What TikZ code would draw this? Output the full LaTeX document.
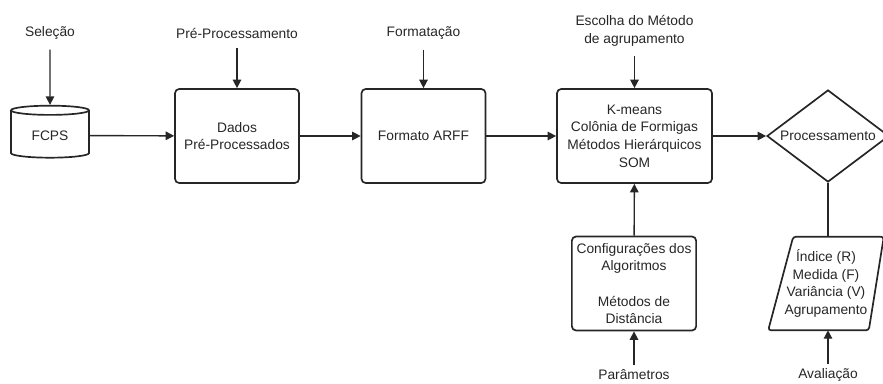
\documentclass[tikz,border=0pt]{standalone}
\usepackage{fontspec}
\setsansfont{Liberation Sans}
\usetikzlibrary{shapes.geometric,arrows.meta,positioning,calc}

\begin{document}
\begin{tikzpicture}[
    x=0.025cm, y=-0.025cm,
    txt/.style={font=\sffamily\fontsize{9.8}{12.5}\selectfont, text=black!85},
    outline/.style={draw=black!85, line width=1.2pt},
    box/.style={outline, rectangle, rounded corners=3pt, align=center, minimum height=2.35cm, txt},
    base/.style={outline, cylinder, shape border rotate=90, aspect=0.2, minimum width=1.95cm, minimum height=1.3cm, txt},
    decision/.style={outline, diamond, aspect=1.33, inner sep=0pt, minimum width=3.05cm, minimum height=2.3cm, txt},
    result/.style={rectangle, inner sep=0pt, align=center, minimum width=2.875cm, minimum height=2.325cm, txt},
    edge/.style={-{Triangle[length=6pt,width=6pt]}, line width=1pt, draw=black!85},
    feed/.style={edge, shorten <=4pt},
    lbl/.style={align=center, inner sep=3pt, txt},
]

\useasboundingbox (0,0) rectangle (883,383);

% Steps
\node[base] (fcps) at (50,135.5) {FCPS};
\node[box, minimum width=3.1cm] (dados) at (237,136) {Dados\\Pré-Processados};
\node[box, minimum width=3.1cm] (arff) at (423.5,136) {Formato ARFF};
\node[box, minimum width=3.875cm] (metodos) at (634.5,136) {K-means\\Colônia de Formigas\\Métodos Hierárquicos\\SOM};
\node[decision] (proc) at (828,136) {Processamento};
\node[box, minimum width=3.1cm] (config) at (634,283.5) {Configurações dos\\Algoritmos\\[12.5pt]Métodos de\\Distância};
\node[result] (indices) at (826,283.5) {Índice (R)\\Medida (F)\\Variância (V)\\Agrupamento};
\draw[outline, rounded corners=2pt] (indices.south west) -- ($(indices.north west)+(25,0)$)
    -- (indices.north east) -- ($(indices.south east)+(-15,0)$) -- cycle;

% Labels
\node[lbl] (selecao) at (50,33) {Seleção};
\node[lbl] (preproc) at (237,33) {Pré-Processamento};
\node[lbl] (formatacao) at (423.5,33) {Formatação};
\node[lbl] (escolha) at (634.5,31) {Escolha do Método\\de agrupamento};
\node[lbl] (parametros) at (634,375) {Parâmetros};
\node[lbl] (avaliacao) at (828,375) {Avaliação};

\draw[feed] (selecao) -- (fcps);
\draw[feed] (preproc) -- (dados);
\draw[feed] (formatacao) -- (arff);
\draw[feed] (escolha) -- (metodos);

\draw[edge] (fcps) -- (dados);
\draw[edge] (dados) -- (arff);
\draw[edge] (arff) -- (metodos);
\draw[edge] (metodos) -- (proc);
\draw[line width=1pt, draw=black!85] (proc.south) -- (proc.south |- indices.north);
\draw[edge] (config) -- (metodos);

\draw[edge] (parametros) -- (config);
\draw[edge] (avaliacao) -- (indices.south -| avaliacao);

\end{tikzpicture}
\end{document}
